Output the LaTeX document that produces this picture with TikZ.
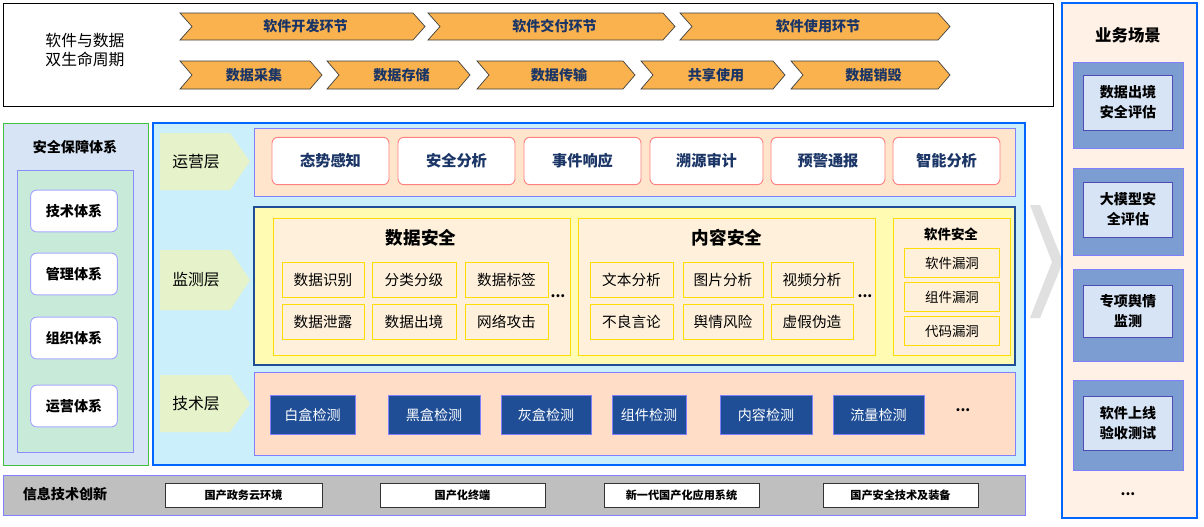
\documentclass[tikz,border=0pt]{standalone}
\usepackage{fontspec}
\setmainfont{Noto Sans CJK SC}
\definecolor{org}{HTML}{F9B24E}
\definecolor{dblue}{HTML}{1F4E96}
\definecolor{txtb}{HTML}{1A3566}
\definecolor{outb}{HTML}{7B9DD2}
\definecolor{inb}{HTML}{D6E4F6}
\definecolor{layg}{HTML}{E5F2CA}
\definecolor{lgreen}{HTML}{C8EAD8}
\begin{document}
\begin{tikzpicture}[x=0.03cm,y=-0.03cm,
 fs/.style={font=\fontsize{#1}{#1}\selectfont},
 fb/.style={font=\fontsize{#1}{#1}\selectfont\bfseries},
 fm/.style={font=\fontsize{#1}{17}\selectfont\bfseries},
 chev/.style={fill=org,draw=black!75,line width=0.6pt},
 ctxt/.style={fb=12,text=txtb},
 wbox/.style={draw=red!50,fill=white,rounded corners=5pt,line width=0.8pt,fb=13,text=txtb},
 ybox/.style={draw=yellow!80!orange,fill=yellow!8!orange!12,line width=0.8pt,fs=12.5},
 tbox/.style={fill=dblue,draw=blue!50,text=white,fs=12},
 gbox/.style={draw=black!80,fill=white,line width=0.8pt,fb=9.5},
 sbox/.style={draw=blue!40!gray,fill=inb,line width=0.6pt,fm=12,align=center}]
\useasboundingbox[fill=white] (0,0) rectangle (1204,526);
% top
\draw[line width=0.8pt] (3,3) rectangle (1053,106);
\node[font=\fontsize{13.5}{17}\selectfont,align=center] (lc) at (85,50) {软件与数据\\双生命周期};
\newcommand\chv[5]{\draw[chev] (#1,#3) -- (#2-12,#3) -- (#2,#3/2+#4/2) -- (#2-12,#4) -- (#1,#4) -- (#1+12,#3/2+#4/2) -- cycle;
 \node[ctxt] at (#1/2+#2/2+3,#3/2+#4/2) {#5};}
\chv{180}{425}{13}{40}{软件开发环节}
\chv{428}{675}{13}{40}{软件交付环节}
\chv{680}{950}{13}{40}{软件使用环节}
\chv{180}{322}{61}{89}{数据采集}
\chv{327}{470}{61}{89}{数据存储}
\chv{477}{635}{61}{89}{数据传输}
\chv{641}{785}{61}{89}{共享使用}
\chv{791}{950}{61}{89}{数据销毁}
% left panel
\draw[fill=inb,draw=green!50!gray,line width=0.8pt] (3,123) rectangle (148,465);
\node[fb=12] (ls) at (75,147) {安全保障体系};
\draw[fill=lgreen,draw=blue!45,line width=0.8pt] (17,170) rectangle (133,452);
\foreach \y/\t in {211/技术体系,274/管理体系,338/组织体系,406/运营体系}
 \node[draw=blue!35,fill=white,rounded corners=5pt,line width=0.8pt,fb=12,minimum width=2.6cm,minimum height=1.25cm] at (74,\y) {\t};
% main panel
\draw[fill=cyan!20,draw=blue!60!cyan,line width=1pt] (153,123) rectangle (1025,465);
\newcommand\lay[3]{\fill[layg] (160,#1) -- (230,#1) -- (250,#1/2+#2/2) -- (230,#2) -- (160,#2) -- cycle;
 \node[fs=13.5] at (196,#1/2+#2/2) {#3};}
\lay{133}{190}{运营层}
\lay{250}{310}{监测层}
\lay{375}{432}{技术层}
\draw[fill=orange!20,draw=blue!50,line width=0.8pt] (254,128) rectangle (1015,196);
\foreach \a/\b/\t in {272/389/态势感知,398/515/安全分析,524/641/事件响应,650/763/溯源审计,771/885/预警通报,893/1000/智能分析}
 \node[wbox,minimum width=(\b-\a)*0.03cm,minimum height=1.42cm] at ({(\a+\b)/2},161) {\t};
\draw[fill=yellow!30,draw=dblue,line width=0.9pt] (254,207) rectangle (1015,365);
\draw[ybox] (273,218) rectangle (570,355);
\node[fb=15] at (421,238) {数据安全};
\draw[ybox] (578,218) rectangle (875,355);
\node[fb=15] at (727,238) {内容安全};
\draw[ybox] (893,218) rectangle (1010,355);
\node[fb=11.5] at (951,234) {软件安全};
\foreach \a/\b/\t/\u in {282/364/数据识别/数据泄露,372/456/分类分级/数据出境,465/548/数据标签/网络攻击,590/673/文本分析/不良言论,683/763/图片分析/舆情风险,771/853/视频分析/虚假伪造}{
 \node[ybox,minimum width=(\b-\a)*0.03cm,minimum height=1.05cm] at ({(\a+\b)/2},280) {\t};
 \node[ybox,minimum width=(\b-\a)*0.03cm,minimum height=1.05cm] at ({(\a+\b)/2},322) {\u};}
\node[fb=12] at (558,296) {...};
\node[fb=12] at (865,296) {...};
\foreach \y/\t in {263/软件漏洞,297/组件漏洞,331/代码漏洞}
 \node[ybox,fs=11.5,minimum width=2.85cm,minimum height=0.88cm] at (952,\y) {\t};
\draw[fill=red!20!orange!22,draw=blue!50,line width=0.8pt] (254,372) rectangle (1015,455);
\foreach \a/\b/\t in {270/355/白盒检测,388/480/黑盒检测,501/591/灰盒检测,612/686/组件检测,720/812/内容检测,833/924/流量检测}
 \node[tbox,minimum width=(\b-\a)*0.03cm,minimum height=1.17cm] at ({(\a+\b)/2},415) {\t};
\node[fb=12] at (963,410) {...};
% bottom
\draw[fill=black!25,draw=blue!50,line width=0.8pt] (3,475) rectangle (1025,515);
\node[fb=12] at (65,494) {信息技术创新};
\foreach \a/\b/\t in {165/322/国产政务云环境,380/545/国产化终端,604/759/新一代国产化应用系统,823/978/国产安全技术及装备}
 \node[gbox,minimum width=(\b-\a)*0.03cm,minimum height=0.72cm] at ({(\a+\b)/2},495) {\t};
% chevron
\fill[black!12] (1030,205) -- (1040,205) -- (1063,262) -- (1040,318) -- (1030,318) -- (1052,262) -- cycle;
% right panel
\draw[fill=red!8!orange!10,draw=blue!60!cyan,line width=1pt] (1062,3) rectangle (1197,518);
\node[fb=14] at (1128,35) {业务场景};
\foreach \o/\p/\i/\j/\t in {62/148/75/130/{数据出境\\安全评估},168/255/182/237/{大模型安\\全评估},269/361/285/337/{专项舆情\\监测},380/470/396/450/{软件上线\\验收测试}}{
 \draw[fill=outb,draw=blue!50,line width=0.6pt] (1073,\o) rectangle (1183,\p);
 \node[sbox,minimum width=2.67cm,minimum height={(\j-\i)*0.03cm}] at (1128,{(\i+\j)/2}) {\t};}
\node[fb=12] at (1128,494) {...};
\end{tikzpicture}
\end{document}
